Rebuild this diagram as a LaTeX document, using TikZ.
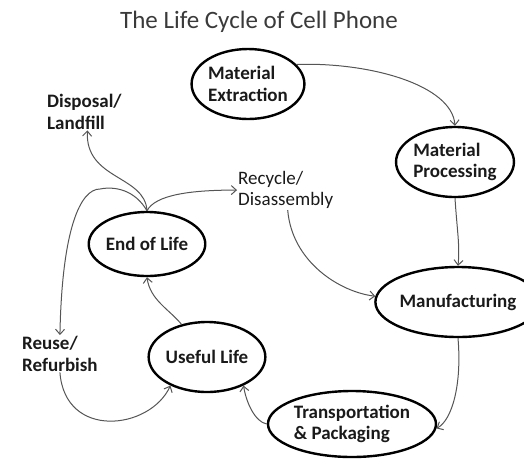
\documentclass[tikz,border=0pt]{standalone}
\usepackage{fontspec}
\setmainfont{Carlito}
\usetikzlibrary{shapes.geometric,arrows.meta}
\definecolor{arrowgray}{HTML}{555555}
\definecolor{titlegray}{HTML}{3A3A3A}
\definecolor{textdark}{HTML}{1A1A1A}
\tikzset{
  stage/.style={shape=ellipse, draw=black, line width=2.4pt, inner sep=0pt,
    align=left, text=textdark, font=\fontsize{19}{21.5}\selectfont\bfseries},
  outcome/.style={inner sep=1pt, align=left, anchor=north west, text=textdark,
    font=\fontsize{19}{21.5}\selectfont\bfseries},
  flow/.style={draw=arrowgray, line width=1pt, -{Straight Barb[length=5pt,width=9pt]}},
}
\begin{document}
\begin{tikzpicture}[x=1pt,y=-1pt]
\useasboundingbox (0,0) rectangle (524,459);
\node[text=titlegray, font=\fontsize{25}{28}\selectfont] (title) at (259,22) {The Life Cycle of Cell Phone};

\node[stage, minimum width=110pt, minimum height=70pt] (ext) at (248,84) {Material\\Extraction};
\node[stage, minimum width=110pt, minimum height=70pt] (proc) at (455,162) {Material\\Processing};
\node[stage, minimum width=130pt, minimum height=70pt] (manu) at (458,302) {Manufacturing};
\node[stage, minimum width=168pt, minimum height=66pt] (trans) at (352,424) {Transportation\\\& Packaging};
\node[stage, minimum width=110pt, minimum height=70pt] (useful) at (207,357) {Useful Life};
\node[stage, minimum width=110pt, minimum height=64pt] (eol) at (147,244) {End of Life};

\node[outcome] (disp) at (46,93) {Disposal/\\Landfill};
\node[outcome, font=\fontsize{19}{21.5}\selectfont] (rec) at (237,170) {Recycle/\\Disassembly};
\node[outcome] (reuse) at (21,335) {Reuse/\\Refurbish};

\draw[flow] (ext.22) .. controls (370,62) and (452,85) .. (proc.north);
\draw[flow] (proc.south) .. controls (457,230) and (460,245) .. (manu.north);
\draw[flow] (manu.south) .. controls (462,385) and (452,420) .. (trans.-3);
\draw[flow] (trans.west) .. controls (255,422) and (246,402) .. (useful.-38);
\draw[flow] (useful.128) .. controls (170,310) and (150,300) .. (eol.south);
\draw[flow] (eol.north) .. controls (145,175) and (85,180) .. ([xshift=3pt]disp.south);
\draw[flow] (eol.north) .. controls (155,195) and (190,190) .. (rec.west);
\draw[flow] (eol.north) .. controls (135,190) and (115,186) .. (100,189)
  .. controls (80,189) and (62,230) .. (reuse.north);
\draw[flow] (reuse.south) .. controls (65,440) and (150,430) .. (useful.-142);
\draw[flow] ([xshift=2pt]rec.south) .. controls (292,262) and (340,292) .. (manu.176);
\end{tikzpicture}
\end{document}
